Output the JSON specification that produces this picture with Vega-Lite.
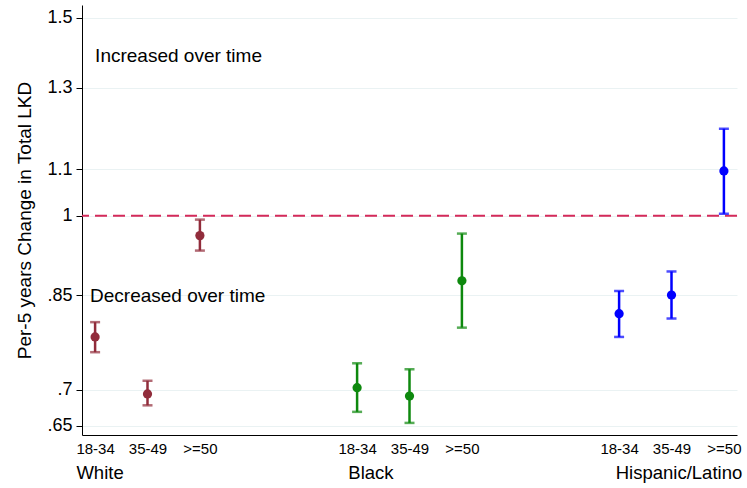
{
  "$schema": "https://vega.github.io/schema/vega-lite/v6.json",
  "width": 655,
  "height": 430,
  "autosize": {"type": "none"},
  "padding": {"left": 82, "top": 5, "right": 10, "bottom": 53},
  "background": "white",
  "config": {"view": {"stroke": null}, "font": "Liberation Sans"},
  "datasets": {
    "est": [
      {"group": "White", "age": "18-34", "x": 1, "est": 0.780, "lo": 0.756, "hi": 0.804},
      {"group": "White", "age": "35-49", "x": 2, "est": 0.694, "lo": 0.678, "hi": 0.713},
      {"group": "White", "age": ">=50", "x": 3, "est": 0.960, "lo": 0.931, "hi": 0.992},
      {"group": "Black", "age": "18-34", "x": 6, "est": 0.703, "lo": 0.669, "hi": 0.739},
      {"group": "Black", "age": "35-49", "x": 7, "est": 0.691, "lo": 0.654, "hi": 0.730},
      {"group": "Black", "age": ">=50", "x": 8, "est": 0.875, "lo": 0.795, "hi": 0.964},
      {"group": "Hispanic/Latino", "age": "18-34", "x": 11, "est": 0.818, "lo": 0.780, "hi": 0.857},
      {"group": "Hispanic/Latino", "age": "35-49", "x": 12, "est": 0.850, "lo": 0.810, "hi": 0.892},
      {"group": "Hispanic/Latino", "age": ">=50", "x": 13, "est": 1.096, "lo": 1.004, "hi": 1.195}
    ],
    "notes": [
      {"label": "Increased over time", "x": 1.0, "y": 1.386},
      {"label": "Decreased over time", "x": 0.903, "y": 0.8475}
    ],
    "groups": [
      {"label": "White", "x": 1.094, "y": 0.59},
      {"label": "Black", "x": 6.265, "y": 0.59},
      {"label": "Hispanic/Latino", "x": 12.143, "y": 0.59}
    ],
    "ref": [{"ref": 1}]
  },
  "layer": [
    {
      "data": {"name": "est"},
      "mark": {"type": "rule", "strokeWidth": 2.5},
      "encoding": {
        "x": {
          "field": "x", "type": "quantitative",
          "scale": {"domain": [0.75, 13.25], "nice": false, "zero": false},
          "axis": {
            "values": [1, 2, 3, 6, 7, 8, 11, 12, 13],
            "labelExpr": "['18-34','35-49','>=50'][(datum.value - 1) % 5]",
            "title": null, "ticks": false, "grid": false,
            "domainColor": "black", "domainWidth": 1,
            "labelFont": "Liberation Sans", "labelFontSize": 15, "labelColor": "black",
            "labelPadding": 6, "labelFlush": false, "labelOverlap": false
          }
        },
        "y": {
          "field": "lo", "type": "quantitative",
          "scale": {"type": "log", "domain": [0.638, 1.54], "nice": false, "zero": false},
          "axis": {
            "values": [0.65, 0.7, 0.85, 1, 1.1, 1.3, 1.5],
            "format": ".2~f",
            "labelExpr": "datum.value < 1 ? substring(datum.label, 1) : datum.label",
            "title": "Per-5 years Change in Total LKD",
            "titleFont": "Liberation Sans", "titleFontSize": 19, "titleFontWeight": "normal",
            "titleColor": "black", "titlePadding": 12,
            "grid": true, "gridColor": "#EAF2F3", "gridWidth": 1,
            "domainColor": "black", "domainWidth": 1,
            "tickColor": "black", "tickSize": 6, "tickWidth": 1,
            "labelFont": "Liberation Sans", "labelFontSize": 18, "labelColor": "black",
            "labelPadding": 4, "labelFlush": false, "labelOverlap": false
          }
        },
        "y2": {"field": "hi"},
        "color": {
          "field": "group", "type": "nominal",
          "scale": {"domain": ["White", "Black", "Hispanic/Latino"], "range": ["#912C3B", "#0E890E", "#0000FF"]},
          "legend": null
        }
      }
    },
    {
      "data": {"name": "ref"},
      "mark": {"type": "rule", "color": "#D42A5A", "strokeWidth": 2, "strokeDash": [12, 6]},
      "encoding": {
        "y": {"field": "ref", "type": "quantitative"}
      }
    },
    {
      "data": {"name": "est"},
      "mark": {"type": "tick", "orient": "horizontal", "size": 10, "thickness": 2.5},
      "encoding": {
        "x": {"field": "x", "type": "quantitative"},
        "y": {"field": "lo", "type": "quantitative"},
        "color": {"field": "group", "type": "nominal", "legend": null}
      }
    },
    {
      "data": {"name": "est"},
      "mark": {"type": "tick", "orient": "horizontal", "size": 10, "thickness": 2.5},
      "encoding": {
        "x": {"field": "x", "type": "quantitative"},
        "y": {"field": "hi", "type": "quantitative"},
        "color": {"field": "group", "type": "nominal", "legend": null}
      }
    },
    {
      "data": {"name": "est"},
      "mark": {"type": "circle", "size": 85, "opacity": 1},
      "encoding": {
        "x": {"field": "x", "type": "quantitative"},
        "y": {"field": "est", "type": "quantitative"},
        "color": {"field": "group", "type": "nominal", "legend": null}
      }
    },
    {
      "data": {"name": "notes"},
      "mark": {"type": "text", "align": "left", "baseline": "middle", "fontSize": 19, "font": "Liberation Sans", "color": "black"},
      "encoding": {
        "x": {"field": "x", "type": "quantitative"},
        "y": {"field": "y", "type": "quantitative"},
        "text": {"field": "label"}
      }
    },
    {
      "data": {"name": "groups"},
      "mark": {"type": "text", "align": "center", "baseline": "middle", "fontSize": 18.5, "font": "Liberation Sans", "color": "black"},
      "encoding": {
        "x": {"field": "x", "type": "quantitative"},
        "y": {"field": "y", "type": "quantitative"},
        "text": {"field": "label"}
      }
    }
  ]
}
